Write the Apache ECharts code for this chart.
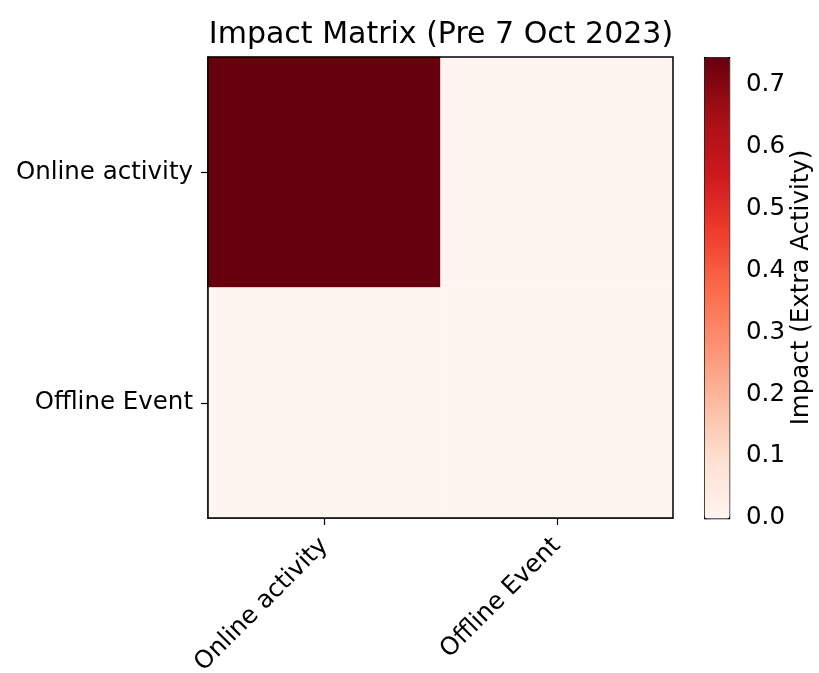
<!DOCTYPE html>
<html>
<head>
<meta charset="utf-8">
<script src="https://cdn.jsdelivr.net/npm/echarts@6/dist/echarts.min.js"></script>
<style>
  html, body { margin: 0; padding: 0; background: #ffffff; }
  #chart { width: 819px; height: 673px; }
</style>
</head>
<body>
<div id="chart"></div>
<script>
// Source / target categories of the impact matrix
const rowLabels = ['Online activity', 'Offline Event'];
const colLabels = ['Online activity', 'Offline Event'];
// Impact values, rows x columns
const impact = [
  [0.745, 0.0],
  [0.0, 0.0]
];
// Colour scale range
const scaleMin = 0.0;
const scaleMax = 0.745;
const scaleStep = 0.1;

// Matplotlib "Reds" colormap stops
const reds = ['#fff5f0', '#fee0d2', '#fcbba1', '#fc9272', '#fb6a4a', '#ef3b2c', '#cb181d', '#a50f15', '#67000d'];

const cells = [];
impact.forEach((row, r) => row.forEach((v, c) => cells.push([c, r, v])));

const font = 'DejaVu Sans';
const tickSize = 24.5;
const chart = echarts.init(document.getElementById('chart'), null, { renderer: 'canvas' });

chart.setOption({
  backgroundColor: '#ffffff',
  animation: false,
  textStyle: { fontFamily: font, color: '#000' },
  title: {
    text: 'Impact Matrix (Pre 7 Oct 2023)',
    left: 436, top: 15, textAlign: 'center',
    textStyle: { fontFamily: font, fontSize: 30, fontWeight: 'normal', color: '#000' }
  },
  grid: [
    { left: 208, top: 57, width: 465, height: 461, outerBoundsMode: 'none', containLabel: false,
      show: true, borderColor: '#000', borderWidth: 1.5, backgroundColor: 'transparent', z: 10 },
    { left: 704, top: 57, width: 25, height: 461, outerBoundsMode: 'none', containLabel: false, show: false }
  ],
  xAxis: [
    {
      type: 'category', data: colLabels, gridIndex: 0,
      axisLine: { show: true, lineStyle: { color: '#000', width: 1.5 } },
      axisTick: { show: true, alignWithLabel: true, length: 7, lineStyle: { color: '#000', width: 1.2 } },
      axisLabel: { rotate: 45, fontSize: tickSize, color: '#000', fontFamily: font, margin: 24 },
      splitLine: { show: false }
    },
    { type: 'value', gridIndex: 1, show: false, min: 0, max: 1 }
  ],
  yAxis: [
    {
      type: 'category', data: rowLabels, gridIndex: 0, inverse: true,
      axisLine: { show: true, lineStyle: { color: '#000', width: 1.5 } },
      axisTick: { show: true, alignWithLabel: true, length: 7, lineStyle: { color: '#000', width: 1.2 } },
      axisLabel: { fontSize: tickSize, color: '#000', fontFamily: font, margin: 15 },
      splitLine: { show: false }
    },
    {
      type: 'value', gridIndex: 1, position: 'right',
      min: scaleMin, max: scaleMax, interval: scaleStep,
      axisLine: { show: false },
      axisTick: { show: true, length: 7, lineStyle: { color: '#000', width: 1.2 } },
      axisLabel: { fontSize: tickSize, color: '#000', fontFamily: font, margin: 17, formatter: v => v.toFixed(1), showMaxLabel: false },
      splitLine: { show: false },
      name: 'Impact (Extra Activity)', nameLocation: 'middle', nameRotate: 90, nameGap: 58,
      nameTextStyle: { fontSize: tickSize, color: '#000', fontFamily: font }
    }
  ],
  visualMap: {
    type: 'continuous', seriesIndex: 0,
    min: scaleMin, max: scaleMax,
    calculable: false, showLabel: false, text: null,
    left: 704, top: 57, itemWidth: 25, itemHeight: 461,
    padding: 0, borderColor: '#000', borderWidth: 1.2,
    inRange: { color: reds }
  },
  series: [{
    type: 'heatmap', xAxisIndex: 0, yAxisIndex: 0,
    data: cells,
    itemStyle: { borderWidth: 0 },
    emphasis: { disabled: true }
  }]
});
</script>
</body>
</html>
